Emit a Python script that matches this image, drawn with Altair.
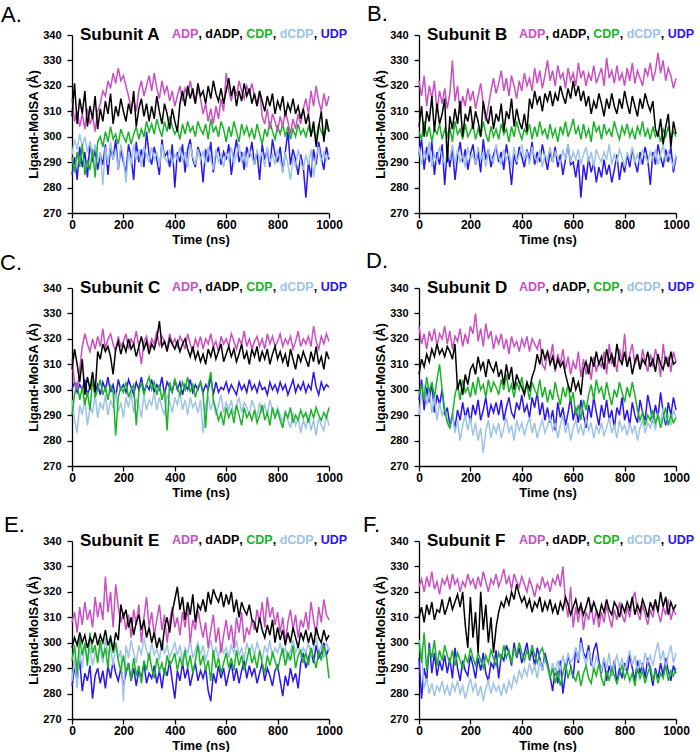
import altair as alt
import pandas as pd

TIME = list(range(0, 1001, 10))
LIGANDS = ["ADP", "dADP", "CDP", "dCDP", "UDP"]
COLORS = {"ADP": "#C94FC2", "dADP": "#000000", "CDP": "#19B325",
          "dCDP": "#9DC3E6", "UDP": "#2A16EE"}
DRAW_ORDER = ["UDP", "dCDP", "CDP", "ADP", "dADP"]
Y_TICKS = [270, 280, 290, 300, 310, 320, 330, 340]
X_TICKS = [0, 200, 400, 600, 800, 1000]

# ---------------- Subunit A ----------------
A_ADP = [315, 306, 310, 304, 309, 303, 311, 305, 308, 302, 310,
         313, 318, 316, 322, 319, 325, 321, 327, 322, 324,
         320, 316, 311, 315, 310, 318, 322, 316, 320, 324,
         318, 325, 319, 315, 322, 317, 320, 314, 318, 312,
         316, 320, 314, 319, 316, 322, 317, 313, 319, 315,
         309, 313, 306, 311, 305, 312, 307, 315, 310, 325,
         318, 314, 320, 316, 322, 318, 315, 320, 317, 321,
         316, 312, 318, 308, 305, 311, 303, 309, 306, 302,
         308, 304, 310, 306, 301, 307, 303, 309, 305, 311,
         315, 309, 318, 312, 320, 314, 310, 317, 312, 316]
A_dADP = [308, 321, 305, 315, 309, 318, 304, 312, 307, 316, 303,
          311, 306, 314, 309, 317, 305, 312, 308, 315, 310,
          306, 313, 309, 318, 304, 311, 315, 308, 313, 306,
          312, 307, 316, 310, 305, 313, 309, 303, 311, 306,
          302, 313, 318, 312, 320, 315, 319, 313, 321, 316,
          318, 313, 320, 315, 322, 317, 314, 319, 313, 318,
          323, 316, 320, 312, 318, 314, 321, 316, 319, 313,
          317, 312, 318, 314, 310, 316, 312, 317, 309, 314,
          311, 316, 308, 313, 310, 315, 309, 312, 307, 311,
          305, 309, 300, 306, 296, 304, 310, 298, 307, 302]
A_CDP = [292, 286, 294, 288, 297, 285, 291, 287, 295, 284, 298,
         300, 296, 302, 298, 304, 299, 301, 297, 303, 300,
         298, 302, 297, 301, 304, 299, 303, 300, 306, 302,
         305, 301, 307, 303, 300, 306, 302, 308, 304, 301,
         303, 299, 305, 301, 306, 302, 304, 300, 306, 303,
         301, 305, 299, 307, 302, 304, 300, 306, 303, 298,
         304, 300, 306, 302, 298, 305, 301, 304, 300, 303,
         299, 305, 301, 297, 303, 300, 306, 302, 299, 304,
         301, 305, 300, 304, 299, 303, 300, 305, 301, 303,
         300, 304, 301, 303, 299, 305, 302, 300, 304, 302]
A_UDP = [285, 292, 283, 296, 288, 294, 284, 298, 290, 295, 287,
         293, 289, 297, 285, 296, 291, 299, 287, 295, 290,
         286, 297, 292, 283, 298, 290, 295, 288, 302, 293,
         289, 296, 291, 285, 299, 292, 294, 288, 297, 280,
         294, 290, 297, 286, 295, 299, 291, 288, 296, 293,
         282, 295, 290, 298, 286, 293, 296, 289, 294, 291,
         297, 285, 293, 299, 290, 294, 287, 296, 292, 298,
         289, 294, 283, 297, 291, 295, 288, 299, 293, 290,
         296, 286, 294, 302, 289, 295, 291, 285, 293, 288,
         276, 290, 284, 295, 289, 298, 292, 287, 296, 291]
A_dCDP = [293, 299, 295, 301, 296, 300, 294, 298, 292, 297, 290,
          294, 281, 296, 289, 298, 291, 295, 287, 297, 292,
          282, 294, 289, 297, 291, 295, 288, 296, 293, 290,
          296, 291, 294, 288, 297, 292, 290, 295, 289, 293,
          291, 296, 290, 294, 288, 297, 292, 289, 295, 291,
          294, 289, 296, 291, 287, 295, 290, 293, 288, 294,
          291, 296, 289, 293, 297, 290, 294, 288, 295, 292,
          289, 295, 291, 294, 288, 296, 290, 293, 289, 295,
          291, 286, 294, 289, 283, 292, 288, 295, 290, 287,
          293, 289, 295, 284, 292, 296, 290, 294, 291, 293]

# ---------------- Subunit B ----------------
B_ADP = [322, 316, 324, 312, 320, 315, 322, 310, 318, 313, 319,
         311, 317, 330, 314, 320, 309, 316, 312, 319, 314,
         318, 311, 316, 321, 313, 306, 312, 318, 323, 317,
         321, 326, 318, 323, 316, 324, 320, 315, 322, 318,
         325, 320, 323, 318, 327, 321, 326, 319, 324, 330,
         322, 326, 320, 328, 323, 325, 319, 327, 322, 325,
         320, 329, 323, 326, 320, 325, 322, 328, 321, 324,
         327, 320, 331, 323, 326, 321, 328, 322, 325, 320,
         327, 322, 329, 321, 326, 323, 320, 327, 324, 329,
         322, 326, 333, 325, 330, 322, 327, 324, 319, 323]
B_dADP = [304, 312, 300, 310, 306, 316, 302, 313, 305, 309, 315,
          290, 308, 303, 311, 305, 314, 300, 309, 306, 312,
          303, 310, 306, 300, 314, 308, 305, 312, 303, 309,
          306, 313, 302, 310, 307, 315, 304, 311, 306, 303,
          309, 302, 315, 311, 318, 313, 316, 310, 317, 314,
          318, 312, 317, 314, 320, 316, 313, 319, 315, 322,
          316, 320, 314, 318, 312, 316, 309, 314, 311, 317,
          313, 308, 315, 311, 317, 312, 309, 315, 311, 318,
          313, 309, 316, 312, 308, 315, 311, 317, 313, 310,
          314, 303, 300, 307, 297, 304, 309, 296, 306, 301]
B_CDP = [302, 299, 306, 300, 304, 298, 303, 301, 305, 299, 303,
         300, 304, 298, 306, 301, 303, 299, 305, 300, 302,
         305, 299, 303, 300, 306, 301, 298, 304, 300, 303,
         299, 305, 301, 303, 298, 304, 300, 306, 302, 299,
         303, 301, 305, 299, 304, 300, 306, 301, 303, 299,
         305, 300, 303, 298, 304, 301, 306, 300, 303, 307,
         301, 304, 299, 305, 300, 303, 298, 306, 302, 304,
         299, 305, 301, 303, 300, 306, 302, 299, 304, 301,
         305, 300, 303, 299, 304, 301, 306, 300, 303, 299,
         304, 300, 302, 298, 303, 300, 304, 299, 302, 300]
B_UDP = [293, 299, 287, 296, 290, 298, 285, 294, 289, 297, 281,
         295, 288, 296, 283, 292, 298, 290, 295, 287, 293,
         297, 289, 294, 286, 299, 291, 295, 288, 293, 296,
         290, 294, 287, 297, 291, 281, 293, 289, 296, 292,
         288, 295, 291, 298, 289, 294, 290, 297, 292, 287,
         294, 290, 296, 288, 293, 285, 291, 297, 289, 290,
         284, 291, 276, 289, 283, 292, 286, 290, 282, 288,
         284, 291, 285, 289, 282, 287, 293, 283, 290, 286,
         293, 288, 295, 290, 286, 294, 289, 296, 291, 281,
         294, 289, 297, 292, 288, 295, 290, 296, 286, 292]
B_dCDP = [296, 289, 294, 291, 298, 288, 293, 290, 296, 292, 289,
          294, 291, 297, 289, 295, 290, 293, 288, 296, 291,
          293, 289, 296, 291, 294, 288, 295, 292, 290, 297,
          292, 289, 295, 291, 294, 288, 296, 290, 293, 297,
          291, 294, 289, 296, 292, 290, 295, 288, 293, 291,
          296, 290, 294, 292, 289, 295, 291, 297, 290, 294,
          291, 295, 289, 293, 296, 290, 294, 288, 295, 292,
          290, 294, 291, 297, 289, 293, 290, 295, 292, 288,
          294, 291, 296, 290, 293, 289, 295, 292, 290, 294,
          291, 295, 289, 293, 297, 290, 294, 291, 288, 293]

# ---------------- Subunit C ----------------
C_ADP = [312, 303, 300, 308, 317, 322, 318, 315, 320, 316, 321,
         317, 324, 316, 320, 322, 318, 315, 321, 317, 319,
         322, 316, 320, 318, 323, 317, 310, 319, 321, 316,
         320, 318, 323, 317, 321, 319, 316, 322, 318, 320,
         317, 321, 319, 316, 322, 318, 315, 320, 317, 321,
         316, 320, 318, 322, 317, 319, 315, 321, 318, 320,
         317, 322, 319, 316, 320, 318, 323, 317, 320, 316,
         319, 321, 317, 320, 316, 322, 318, 321, 317, 319,
         322, 317, 320, 318, 321, 316, 319, 323, 317, 320,
         318, 321, 317, 325, 319, 316, 321, 318, 322, 319]
C_dADP = [308, 316, 310, 303, 312, 298, 305, 300, 307, 299, 315,
          312, 318, 315, 317, 313, 306, 316, 319, 314, 318,
          315, 320, 316, 318, 313, 317, 321, 316, 319, 314,
          318, 316, 320, 327, 317, 319, 315, 320, 318, 316,
          319, 315, 318, 320, 316, 313, 317, 312, 315, 311,
          314, 310, 316, 313, 317, 312, 315, 318, 311, 314,
          317, 313, 316, 311, 314, 318, 312, 315, 310, 316,
          313, 317, 311, 315, 312, 316, 310, 314, 317, 312,
          315, 311, 314, 309, 316, 312, 308, 314, 311, 315,
          312, 309, 315, 311, 317, 310, 313, 308, 315, 312]
C_CDP = [290, 298, 303, 296, 301, 294, 299, 292, 304, 297, 300,
         304, 298, 301, 296, 302, 299, 282, 297, 301, 299,
         303, 297, 300, 302, 286, 299, 303, 298, 302, 305,
         300, 303, 298, 302, 296, 300, 284, 303, 299, 304,
         301, 298, 303, 300, 305, 299, 302, 297, 301, 303,
         298, 285, 302, 307, 296, 292, 288, 291, 286, 293,
         289, 292, 287, 294, 290, 286, 293, 289, 291, 288,
         292, 287, 290, 294, 288, 291, 286, 293, 289, 292,
         288, 285, 291, 289, 293, 287, 290, 288, 292, 289,
         291, 287, 292, 289, 293, 290, 288, 291, 289, 293]
C_UDP = [300, 303, 299, 302, 300, 304, 298, 301, 303, 299, 302,
         298, 303, 300, 305, 299, 302, 297, 304, 300, 302,
         299, 304, 301, 298, 303, 300, 305, 299, 302, 300,
         304, 299, 302, 300, 305, 298, 303, 301, 299, 304,
         300, 303, 298, 302, 300, 304, 299, 302, 300, 303,
         299, 302, 300, 305, 298, 303, 299, 301, 300, 303,
         299, 302, 300, 298, 303, 300, 302, 299, 304, 300,
         302, 299, 303, 300, 301, 298, 303, 300, 302, 299,
         303, 300, 302, 298, 301, 304, 299, 302, 300, 303,
         299, 302, 300, 307, 301, 298, 303, 300, 302, 301]
C_dCDP = [296, 288, 283, 294, 290, 297, 286, 293, 291, 298, 289,
          295, 292, 298, 290, 296, 293, 299, 291, 295, 289,
          297, 293, 299, 291, 296, 294, 289, 298, 292, 296,
          294, 299, 292, 297, 293, 290, 298, 295, 291, 297,
          294, 299, 292, 296, 290, 297, 293, 295, 291, 296,
          283, 294, 297, 292, 296, 290, 294, 298, 291, 295,
          292, 296, 290, 294, 297, 291, 295, 293, 290, 296,
          293, 289, 295, 291, 294, 290, 296, 292, 289, 293,
          290, 287, 292, 288, 285, 291, 286, 289, 283, 288,
          285, 290, 284, 288, 282, 289, 286, 284, 290, 286]

# ---------------- Subunit D ----------------
D_ADP = [325, 318, 322, 316, 323, 319, 324, 317, 322, 320, 325,
         318, 323, 316, 321, 319, 324, 317, 322, 318, 325,
         322, 330, 319, 324, 317, 326, 320, 323, 316, 321,
         318, 322, 316, 320, 314, 321, 317, 319, 315, 320,
         317, 321, 315, 320, 318, 316, 320, 310, 308, 315,
         312, 318, 307, 314, 310, 316, 308, 313, 306, 311,
         308, 315, 305, 312, 306, 310, 304, 313, 307, 311,
         309, 315, 306, 318, 310, 313, 307, 316, 311, 322,
         309, 314, 318, 310, 313, 308, 316, 311, 307, 314,
         309, 316, 312, 305, 318, 310, 313, 307, 315, 311]
D_dADP = [306, 312, 309, 314, 311, 316, 313, 318, 314, 316, 313,
          317, 315, 312, 318, 300, 304, 298, 306, 302, 308,
          310, 306, 313, 308, 311, 305, 312, 309, 307, 311,
          305, 308, 302, 310, 304, 309, 300, 306, 303, 301,
          298, 303, 300, 305, 308, 314, 310, 316, 312, 315,
          310, 313, 308, 312, 309, 311, 306, 302, 299, 305,
          300, 303, 298, 308, 311, 306, 313, 309, 315, 310,
          313, 308, 316, 311, 314, 309, 318, 312, 310, 315,
          309, 313, 306, 311, 314, 308, 312, 310, 315, 309,
          312, 307, 314, 310, 308, 313, 309, 315, 310, 311]
D_CDP = [298, 302, 296, 305, 299, 303, 297, 304, 310, 300, 292,
         287, 285, 290, 298, 302, 296, 304, 299, 301, 297,
         303, 298, 305, 300, 302, 297, 304, 299, 303, 301,
         298, 304, 300, 306, 299, 302, 297, 303, 300, 305,
         299, 302, 296, 303, 300, 298, 304, 297, 301, 295,
         300, 296, 303, 298, 294, 301, 297, 302, 295, 299,
         290, 294, 288, 296, 292, 298, 302, 296, 304, 299,
         301, 296, 303, 298, 294, 300, 297, 303, 299, 295,
         301, 297, 303, 298, 292, 288, 291, 286, 290, 288,
         292, 287, 290, 285, 289, 293, 286, 290, 287, 289]
D_UDP = [296, 304, 292, 301, 295, 303, 291, 298, 294, 300, 290,
         293, 286, 290, 285, 292, 288, 295, 289, 293, 287,
         294, 290, 296, 288, 292, 297, 289, 294, 291, 295,
         290, 296, 288, 293, 297, 291, 289, 295, 292, 298,
         291, 294, 289, 297, 293, 299, 290, 295, 288, 293,
         287, 292, 284, 295, 289, 293, 286, 291, 297, 288,
         293, 287, 296, 290, 285, 294, 289, 297, 291, 286,
         294, 289, 296, 288, 292, 285, 293, 290, 297, 288,
         292, 286, 295, 290, 287, 296, 291, 288, 298, 293,
         287, 294, 289, 299, 291, 286, 295, 290, 297, 292]
D_dCDP = [290, 298, 302, 294, 299, 291, 297, 288, 295, 290, 293,
          288, 285, 291, 283, 288, 280, 286, 290, 284, 289,
          282, 287, 280, 285, 275, 284, 288, 281, 286, 283,
          287, 281, 285, 289, 283, 286, 280, 288, 284, 287,
          282, 286, 289, 283, 287, 281, 285, 288, 283, 286,
          289, 284, 287, 281, 286, 290, 283, 287, 280, 285,
          288, 283, 286, 282, 289, 284, 287, 281, 286, 283,
          287, 282, 285, 289, 283, 286, 281, 288, 284, 286,
          282, 287, 283, 286, 280, 285, 288, 283, 287, 285,
          289, 284, 291, 287, 293, 288, 290, 286, 292, 289]

# ---------------- Subunit E ----------------
E_ADP = [308, 312, 304, 314, 307, 316, 309, 313, 306, 318, 310,
         316, 309, 326, 312, 320, 306, 323, 314, 308, 312,
         305, 311, 302, 313, 307, 315, 300, 310, 318, 306,
         312, 303, 309, 315, 305, 311, 300, 308, 314, 306,
         310, 303, 312, 306, 314, 300, 309, 305, 313, 307,
         302, 308, 298, 305, 311, 300, 306, 296, 303, 309,
         301, 307, 298, 310, 304, 312, 300, 306, 303, 309,
         305, 313, 308, 316, 306, 318, 310, 314, 307, 312,
         304, 310, 300, 308, 313, 305, 311, 302, 309, 306,
         312, 305, 316, 309, 303, 314, 308, 317, 311, 309]
E_dADP = [298, 302, 299, 304, 300, 303, 298, 302, 300, 304, 299,
          303, 300, 305, 299, 302, 297, 304, 301, 315, 310,
          313, 306, 310, 303, 308, 311, 305, 309, 302, 306,
          300, 304, 298, 302, 297, 306, 310, 304, 312, 317,
          322, 313, 318, 309, 316, 311, 319, 308, 315, 313,
          317, 312, 320, 315, 321, 318, 316, 320, 314, 319,
          315, 320, 312, 317, 310, 316, 313, 311, 315, 309,
          308, 304, 310, 305, 302, 307, 303, 309, 300, 306,
          301, 305, 299, 304, 300, 306, 302, 298, 304, 301,
          305, 300, 304, 299, 306, 302, 300, 305, 301, 303]
E_CDP = [293, 299, 288, 302, 295, 300, 291, 304, 296, 299, 292,
         301, 294, 298, 290, 303, 296, 300, 293, 289, 295,
         288, 292, 285, 294, 287, 291, 284, 293, 289, 296,
         290, 286, 294, 289, 292, 287, 295, 291, 293, 296,
         289, 294, 291, 297, 290, 295, 288, 293, 299, 291,
         295, 289, 293, 285, 297, 290, 294, 288, 292, 296,
         290, 294, 289, 297, 291, 295, 289, 293, 298, 292,
         295, 290, 297, 292, 288, 295, 291, 296, 293, 289,
         294, 298, 291, 296, 293, 299, 290, 295, 297, 292,
         296, 291, 298, 294, 290, 297, 293, 299, 295, 286]
E_UDP = [283, 290, 286, 293, 281, 288, 285, 291, 278, 287, 290,
         284, 289, 282, 291, 286, 293, 288, 285, 290, 283,
         288, 292, 285, 290, 283, 289, 286, 292, 284, 288,
         286, 291, 284, 289, 282, 290, 287, 293, 285, 278,
         289, 285, 292, 286, 290, 283, 288, 292, 285, 289,
         286, 290, 281, 277, 288, 284, 291, 286, 290, 283,
         288, 292, 285, 290, 284, 289, 293, 286, 291, 287,
         290, 284, 288, 292, 285, 290, 287, 283, 289, 291,
         285, 279, 287, 283, 290, 285, 288, 282, 292, 296,
         290, 294, 297, 292, 299, 294, 296, 300, 295, 298]
E_dCDP = [285, 294, 282, 297, 290, 300, 293, 298, 291, 296, 294,
          299, 292, 302, 295, 298, 291, 300, 294, 297, 277,
          299, 294, 301, 296, 292, 299, 295, 302, 297, 293,
          300, 295, 298, 293, 301, 296, 299, 294, 297, 300,
          295, 299, 293, 298, 296, 301, 294, 297, 300, 295,
          299, 293, 297, 301, 295, 298, 294, 300, 296, 298,
          294, 299, 296, 301, 295, 298, 293, 300, 296, 299,
          295, 300, 297, 293, 299, 296, 301, 294, 298, 296,
          300, 295, 298, 293, 297, 301, 296, 299, 294, 298,
          296, 300, 295, 298, 302, 296, 299, 294, 300, 297]

# ---------------- Subunit F ----------------
F_ADP = [322, 325, 320, 326, 322, 328, 321, 324, 319, 325, 323,
         326, 321, 327, 323, 325, 320, 324, 322, 327, 323,
         325, 321, 326, 322, 328, 324, 320, 325, 323, 327,
         322, 325, 329, 323, 326, 321, 327, 324, 322, 326,
         323, 320, 325, 322, 318, 323, 321, 326, 322, 324,
         320, 325, 323, 327, 322, 330, 316, 310, 322, 306,
         314, 308, 316, 305, 312, 309, 315, 307, 313, 306,
         312, 308, 315, 310, 306, 313, 309, 316, 311, 308,
         314, 310, 317, 320, 312, 309, 315, 311, 307, 313,
         310, 316, 312, 308, 314, 311, 317, 309, 313, 311]
F_dADP = [310, 314, 308, 315, 311, 316, 309, 313, 312, 317, 311,
          314, 318, 313, 316, 319, 314, 320, 307, 298, 318,
          302, 312, 296, 320, 305, 315, 300, 310, 296, 306,
          312, 316, 314, 318, 315, 320, 317, 323, 319, 316,
          318, 314, 317, 312, 316, 314, 318, 312, 316, 313,
          317, 312, 315, 311, 316, 313, 318, 315, 311, 314,
          317, 312, 315, 311, 314, 318, 312, 316, 313, 310,
          315, 312, 317, 313, 311, 316, 314, 310, 315, 312,
          316, 313, 318, 311, 315, 312, 317, 314, 310, 316,
          313, 317, 312, 320, 314, 318, 311, 316, 313, 315]
F_CDP = [300, 292, 304, 289, 298, 294, 301, 291, 297, 293, 299,
         295, 292, 297, 291, 296, 293, 290, 295, 292, 298,
         294, 291, 296, 293, 290, 295, 292, 297, 294, 291,
         296, 293, 299, 294, 297, 292, 298, 295, 300, 296,
         293, 297, 294, 299, 295, 292, 296, 298, 294, 291,
         286, 290, 284, 289, 283, 288, 292, 286, 290, 287,
         285, 289, 283, 288, 291, 286, 284, 290, 287, 292,
         286, 283, 289, 285, 290, 287, 284, 288, 291, 286,
         289, 285, 288, 283, 290, 286, 289, 284, 288, 291,
         285, 289, 284, 288, 286, 291, 285, 289, 287, 290]
F_UDP = [294, 278, 290, 285, 300, 288, 296, 287, 293, 289, 295,
         288, 294, 286, 298, 290, 285, 293, 289, 287, 295,
         291, 286, 294, 289, 296, 288, 285, 292, 290, 297,
         286, 295, 293, 299, 296, 291, 300, 294, 298, 292,
         296, 300, 293, 297, 291, 298, 294, 289, 296, 292,
         287, 281, 290, 284, 293, 280, 288, 295, 291, 286,
         298, 292, 302, 296, 294, 299, 291, 297, 300, 293,
         288, 294, 285, 291, 287, 293, 284, 290, 286, 292,
         288, 295, 290, 285, 293, 288, 292, 286, 294, 289,
         283, 290, 286, 292, 287, 294, 289, 285, 291, 288]
F_dCDP = [301, 297, 282, 286, 280, 284, 279, 283, 281, 285, 280,
          283, 279, 284, 281, 285, 280, 283, 278, 282, 286,
          281, 284, 279, 283, 277, 282, 285, 280, 284, 281,
          283, 279, 284, 280, 285, 282, 287, 284, 289, 286,
          290, 287, 292, 288, 291, 286, 293, 289, 294, 290,
          287, 292, 288, 293, 289, 295, 290, 296, 292, 294,
          298, 293, 300, 295, 291, 297, 293, 289, 295, 291,
          289, 294, 290, 296, 287, 292, 295, 290, 294, 289,
          293, 297, 291, 295, 288, 293, 290, 296, 292, 295,
          291, 296, 300, 293, 297, 290, 295, 299, 292, 296]

PANELS = {
    "A": {"ADP": A_ADP, "dADP": A_dADP, "CDP": A_CDP, "dCDP": A_dCDP, "UDP": A_UDP},
    "B": {"ADP": B_ADP, "dADP": B_dADP, "CDP": B_CDP, "dCDP": B_dCDP, "UDP": B_UDP},
    "C": {"ADP": C_ADP, "dADP": C_dADP, "CDP": C_CDP, "dCDP": C_dCDP, "UDP": C_UDP},
    "D": {"ADP": D_ADP, "dADP": D_dADP, "CDP": D_CDP, "dCDP": D_dCDP, "UDP": D_UDP},
    "E": {"ADP": E_ADP, "dADP": E_dADP, "CDP": E_CDP, "dCDP": E_dCDP, "UDP": E_UDP},
    "F": {"ADP": F_ADP, "dADP": F_dADP, "CDP": F_CDP, "dCDP": F_dCDP, "UDP": F_UDP},
}

# ---------------- layout / style ----------------
FONT = "Liberation Sans"
W, H = 257, 178
LETTER_POS = {"A": (-71, -13), "B": (-52, -14), "C": (-72, -18),
              "D": (-53, -20), "E": (-68, -9), "F": (-56, -9)}
LEG_SIZE = 12.5
# Arial-bold advance widths (em) for legend layout
ADV = {"A": .722, "D": .722, "P": .667, "d": .611, "C": .722, "U": .722, ",": .278, " ": .278}
LEG_PIECES = [("ADP", "ADP"), (", ", None), ("dADP", "dADP"), (", ", None),
              ("CDP", "CDP"), (", ", None), ("dCDP", "dCDP"), (", ", None), ("UDP", "UDP")]

DUMMY = pd.DataFrame({"d": [0]})

xaxis = alt.Axis(values=X_TICKS, title="Time (ns)", format="d", grid=False,
                 labelFont=FONT, labelFontWeight="bold", labelFontSize=12, labelColor="black",
                 titleFont=FONT, titleFontWeight="bold", titleFontSize=13, titleColor="black",
                 domainColor="black", domainWidth=1.3, tickColor="black", tickWidth=1.3,
                 tickSize=5, labelPadding=1, titlePadding=3, labelFlush=False)
yaxis = alt.Axis(values=Y_TICKS, title="Ligand-MolSA (Å)", format="d", grid=False,
                 labelFont=FONT, labelFontWeight="bold", labelFontSize=11, labelColor="black",
                 titleFont=FONT, titleFontWeight="bold", titleFontSize=13, titleColor="black",
                 domainColor="black", domainWidth=1.3, tickColor="black", tickWidth=1.3,
                 tickSize=5, labelPadding=6, titlePadding=2)


def text_layer(s, x, y, size, weight, color, baseline="middle"):
    return alt.Chart(DUMMY).mark_text(
        align="left", baseline=baseline, font=FONT, fontSize=size,
        fontWeight=weight, color=color
    ).encode(x=alt.value(x), y=alt.value(y), text=alt.value(s))


def panel(letter):
    layers = []
    for lig in DRAW_ORDER:
        df = pd.DataFrame({"time": TIME, "sasa": PANELS[letter][lig]})
        layers.append(
            alt.Chart(df).mark_line(color=COLORS[lig], strokeWidth=1.5).encode(
                x=alt.X("time:Q", scale=alt.Scale(domain=[0, 1000], nice=False), axis=xaxis),
                y=alt.Y("sasa:Q", scale=alt.Scale(domain=[270, 340], nice=False, zero=False), axis=yaxis),
            )
        )
    lx, ly = LETTER_POS[letter]
    layers.append(text_layer(letter + ".", lx, ly, 22, "normal", "black", baseline="alphabetic"))
    layers.append(text_layer("Subunit " + letter, 8, 0, 17, "bold", "black"))
    xpos = 100.0
    for s, lig in LEG_PIECES:
        col = COLORS[lig] if lig else "black"
        layers.append(text_layer(s.strip(), xpos, -1, LEG_SIZE, "bold", col))
        xpos += sum(ADV[c] for c in s) * LEG_SIZE
    return alt.layer(*layers).properties(width=W, height=H)


chart = alt.concat(
    *[panel(p) for p in "ABCDEF"],
    columns=2, spacing={"row": 75, "column": 90}, bounds="flush"
).properties(
    padding={"left": 0, "top": 3, "right": 0, "bottom": 0}
).configure_view(strokeWidth=0)

chart.save("out.html", embed_options={"renderer": "svg", "actions": False})
